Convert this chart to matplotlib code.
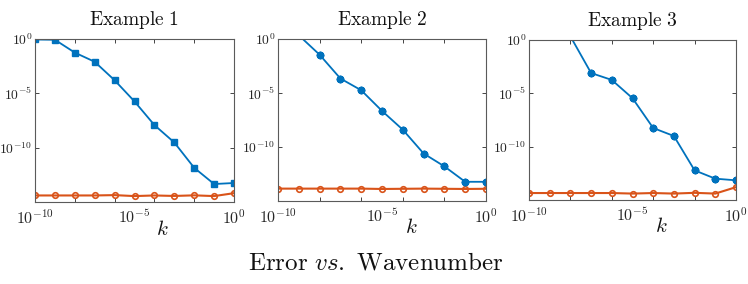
import numpy as np
import matplotlib
matplotlib.use("Agg")
import matplotlib.pyplot as plt
from matplotlib.ticker import FixedLocator, FuncFormatter, NullFormatter

plt.rcParams['mathtext.fontset'] = 'cm'
plt.rcParams['font.family'] = ['DejaVu Serif']

# wavenumber exponents k = 10^e
k_exp = [-10, -9, -8, -7, -6, -5, -4, -3, -2, -1, 0]

titles = ["Example 1", "Example 2", "Example 3"]

blue1 = [0.9, 0.85, 5.6e-2, 8e-3, 1.6e-4, 1.8e-6, 1.2e-8, 3e-10, 1.4e-12, 4.5e-14, 5.6e-14]
orange1 = [4e-15, 4e-15, 4e-15, 4e-15, 4.3e-15, 3.5e-15, 4e-15, 3.6e-15, 4.1e-15, 3.5e-15, 6.5e-15]

blue2 = [np.nan, 2.2, 3.5e-2, 2.2e-4, 1.8e-5, 2.2e-7, 4e-9, 2.5e-11, 1.6e-12, 6e-14, 6e-14]
orange2 = [1.4e-14, 1.4e-14, 1.4e-14, 1.4e-14, 1.4e-14, 1.3e-14, 1.35e-14, 1.4e-14, 1.35e-14, 1.3e-14, 1.35e-14]

blue3 = [np.nan, np.nan, 2.2, 8e-4, 1.8e-4, 3.5e-6, 5.6e-9, 1e-9, 6e-13, 1e-13, 7e-14]
orange3 = [4.5e-15, 4.5e-15, 4.5e-15, 4.5e-15, 4.5e-15, 4e-15, 4.5e-15, 4e-15, 4.7e-15, 4e-15, 1.6e-14]

blues = [blue1, blue2, blue3]
oranges = [orange1, orange2, orange3]

BLUE = '#0072BD'
ORANGE = '#D95319'

W, H = 748, 284
fig = plt.figure(figsize=(W / 100, H / 100), dpi=100)

# axes boxes in pixels: left, right, top, bottom
boxes = [(35, 234, 39, 202), (278, 486, 39, 201), (529, 736, 40, 200)]
bmarkers = ['s', (8, 2, 0), (8, 2, 0)]

x = [10.0 ** e for e in k_exp]


def fmt(v, pos):
    e = int(round(np.log10(v)))
    return r'$10^{%d}$' % e


for i, (l, r, t, b) in enumerate(boxes):
    ax = fig.add_axes([l / W, (H - b) / H, (r - l) / W, (b - t) / H])
    ax.set_xscale('log')
    ax.set_yscale('log')
    ax.plot(x, oranges[i], color=ORANGE, lw=1.5, marker='o', ms=4,
            mfc='none', mec=ORANGE, mew=1.2)
    if i == 0:
        ax.plot(x, blues[i], color=BLUE, lw=1.3, marker='s', ms=3.8,
                mfc=BLUE, mec=BLUE)
    else:
        ax.plot(x, blues[i], color=BLUE, lw=1.3, marker=bmarkers[i], ms=5.5,
                mec=BLUE, mew=1.5)
    ax.set_xlim(1e-10, 1)
    ax.set_ylim(1e-15, 1)
    # x ticks: marks at even decades, labels at -10, -5, 0
    ax.xaxis.set_major_locator(FixedLocator([1e-10, 1e-5, 1e0]))
    ax.xaxis.set_major_formatter(FuncFormatter(fmt))
    ax.xaxis.set_minor_locator(FixedLocator([1e-8, 1e-6, 1e-4, 1e-2]))
    ax.xaxis.set_minor_formatter(NullFormatter())
    ax.yaxis.set_major_locator(FixedLocator([1e-10, 1e-5, 1e0]))
    ax.yaxis.set_major_formatter(FuncFormatter(fmt))
    ax.yaxis.set_minor_locator(FixedLocator([]))
    ax.tick_params(which='both', direction='in', top=True, right=True,
                   colors='#262626', length=3, width=0.6)
    ax.tick_params(axis='x', which='major', length=0, pad=5, labelsize=11.5)
    ax.tick_params(axis='y', which='major', pad=2, labelsize=9.8)
    for s in ax.spines.values():
        s.set_color('#5a5a5a')
        s.set_linewidth(0.8)
    ax.set_title(r'$\mathrm{%s}$' % titles[i].replace(' ', r'\ '),
                 fontsize=14, pad=10, color='#111111')
    ax.text(0.64, -0.2, r'$k$', transform=ax.transAxes, ha='center',
            va='baseline', fontsize=15, color='#111111')

fig.text(0.503, (H - 269) / H, r'$\mathrm{Error}\ vs.\ \mathrm{Wavenumber}$',
         ha='center', va='baseline', fontsize=18, color='#111111')

fig.savefig('out.png', dpi=100)
